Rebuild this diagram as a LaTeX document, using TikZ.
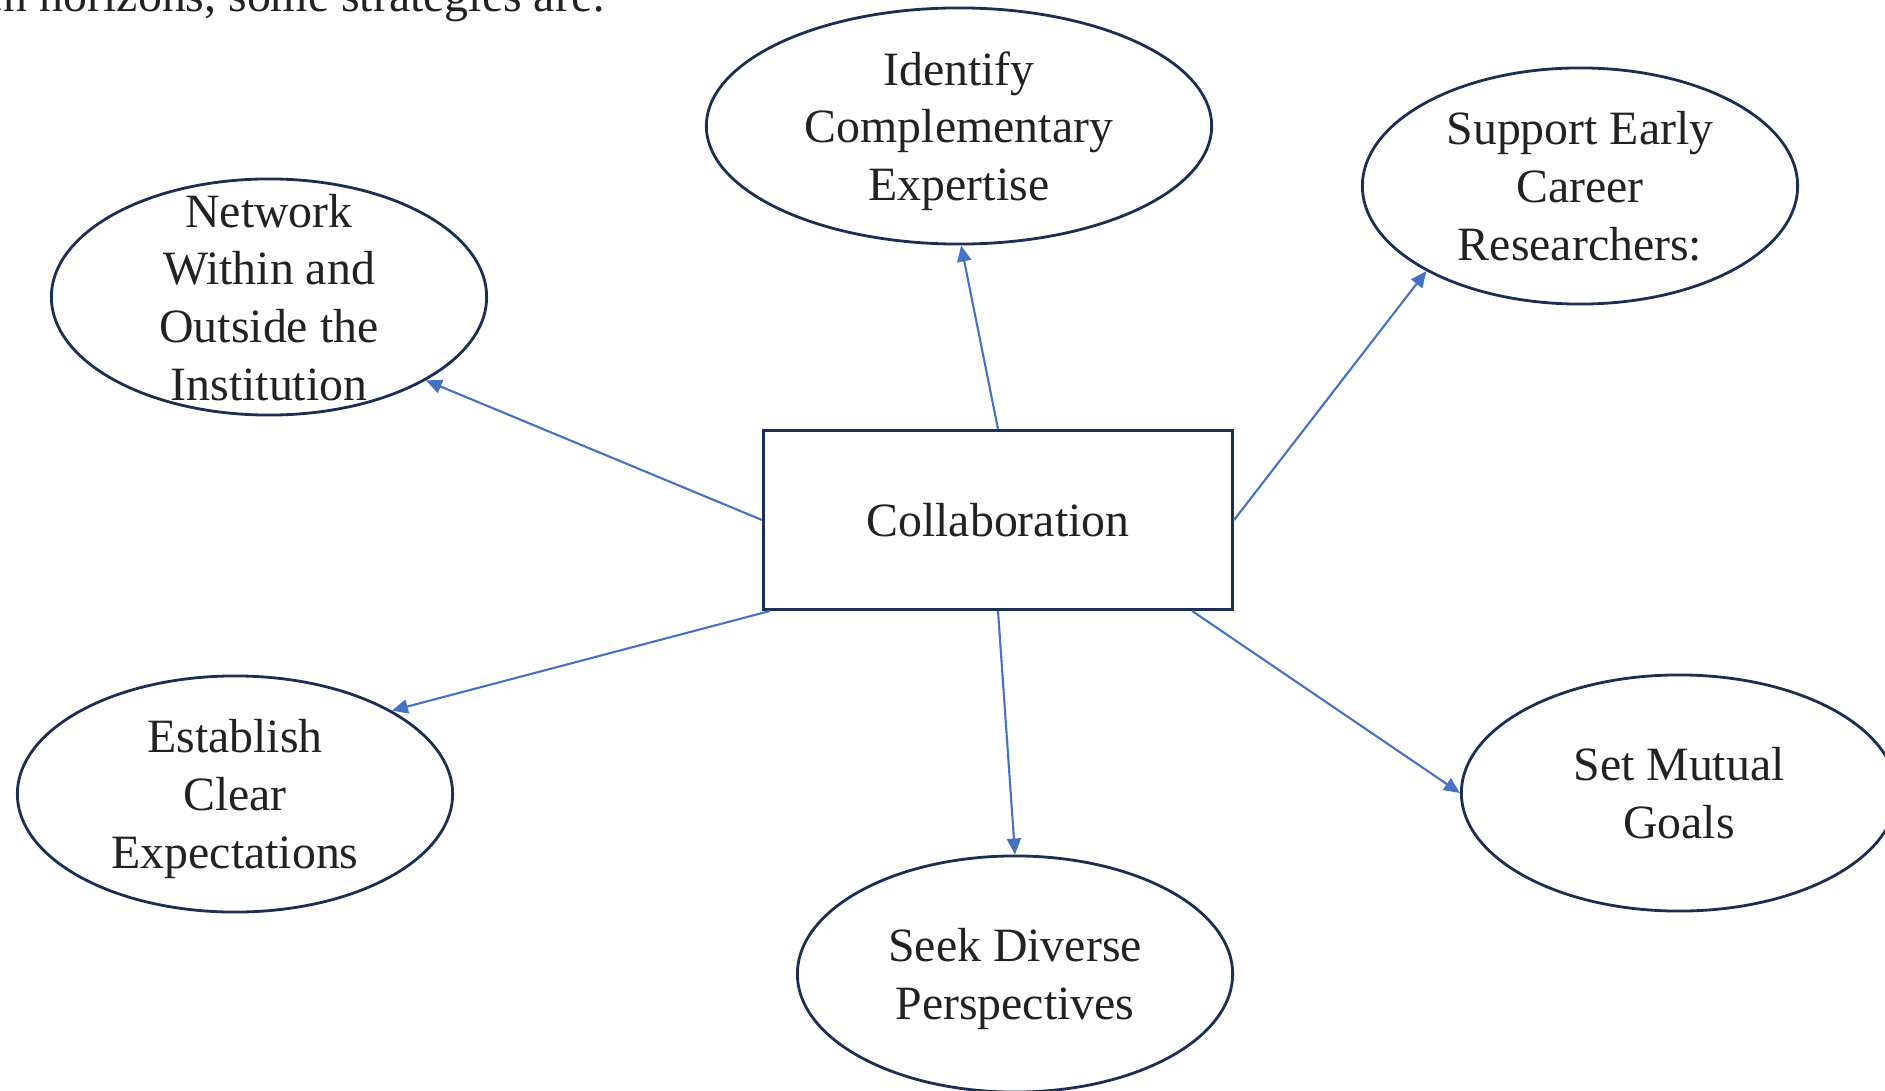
\documentclass[tikz,border=0pt]{standalone}
\usepackage{fontspec}
\setmainfont{Liberation Serif}
\usetikzlibrary{arrows.meta,shapes.geometric}
\definecolor{outline}{HTML}{1B2F55}
\definecolor{link}{HTML}{4472C4}
\definecolor{ink}{HTML}{222222}
\tikzset{
  bodyfont/.style={text=ink, font=\fontsize{13.6}{16.4}\selectfont},
  hubbox/.style={draw=outline, line width=0.8pt, minimum width=4.69cm,
    minimum height=1.79cm, bodyfont},
  topic/.style={ellipse, draw=outline, line width=0.8pt, minimum width=4.35cm,
    minimum height=2.36cm, inner xsep=0pt, inner ysep=-0.6cm, align=center,
    text depth=0pt, bodyfont},
  arr/.style={-{Triangle[length=1.6mm,width=1.4mm]}, line width=0.6pt, draw=link}
}

\begin{document}
\begin{tikzpicture}[x=0.01cm,y=-0.01cm]
  \useasboundingbox (0,0) rectangle (1885,1091);
  \node[bodyfont, anchor=base west, inner sep=0pt] (lead) at (-18,11.5) {en horizons, some strategies are:};
  \node[hubbox] (collab) at (998,520) {Collaboration};
  \node[topic, minimum width=5.05cm] (expertise) at (959,126) {Identify\\Complementary\\Expertise};
  \node[topic] (earlycareer) at (1580,186) {Support Early\\Career\\Researchers:};
  \node[topic] (network) at (269,297) {Network\\Within and\\Outside the\\Institution};
  \node[topic] (expect) at (235,794) {Establish\\Clear\\Expectations};
  \node[topic] (diverse) at (1015,974) {Seek Diverse\\Perspectives};
  \node[topic] (goals) at (1679,793) {Set Mutual\\Goals};
  \draw[arr] (collab.west) -- (network.332);
  \draw[arr] (collab.north) -- (expertise.271);
  \draw[arr] (collab.east) -- (earlycareer.209);
  \draw[arr] ([xshift=0.08cm]collab.south west) -- (expect.28);
  \draw[arr] (collab.south) -- (diverse.north);
  \draw[arr] ([xshift=-0.42cm]collab.south east) -- (goals.west);
\end{tikzpicture}
\end{document}
